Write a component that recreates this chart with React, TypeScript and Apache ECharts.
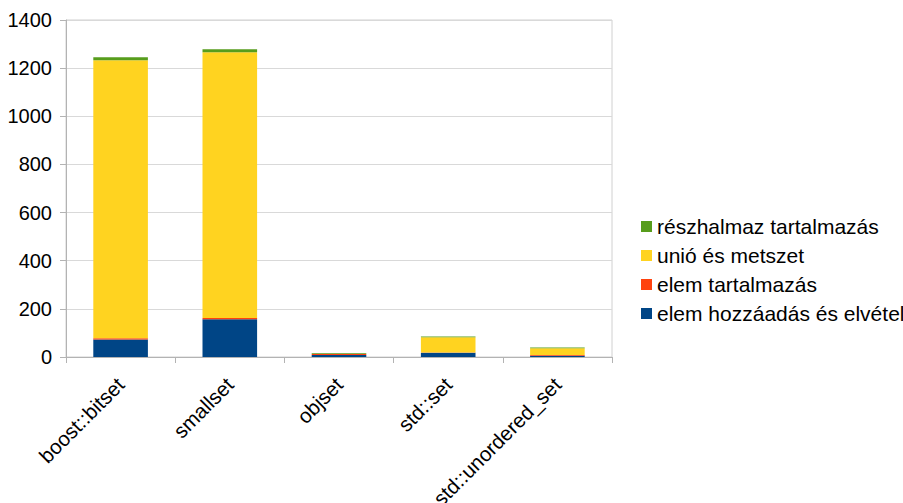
import React, { useEffect, useRef } from "react";
import * as echarts from "echarts";

const categories = ["boost::bitset", "smallset", "objset", "std::set", "std::unordered_set"];
const addRemove = [73, 157, 8, 18, 5];
const contains = [5, 5, 4, 0.5, 3];
const unionIntersect = [1155, 1104, 0.3, 64, 28];
const subsetContains = [12, 12, 3, 3, 3];
const yTicks = [0, 200, 400, 600, 800, 1000, 1200, 1400];

const seriesNames = [
  "elem hozzáadás és elvétel",
  "elem tartalmazás",
  "unió és metszet",
  "részhalmaz tartalmazás",
];
const colors = ["#004586", "#ff420e", "#ffd320", "#579d1c"];

export default function App() {
  const ref = useRef<HTMLDivElement>(null);
  useEffect(() => {
    if (!ref.current) return;
    const chart = echarts.init(ref.current, null, { renderer: "svg" });
    const values = [addRemove, contains, unionIntersect, subsetContains];
    chart.setOption({
      animation: false,
      textStyle: { fontFamily: "Liberation Sans" },
      grid: {
        left: 66,
        right: 291,
        top: 20,
        bottom: 146,
        containLabel: false,
        outerBoundsMode: "none",
        show: true,
        borderColor: "#d0d0d0",
        borderWidth: 1,
      },
      legend: {
        orient: "vertical",
        left: 636,
        top: 211,
        itemWidth: 11,
        itemHeight: 11,
        itemGap: 8,
        icon: "rect",
        data: [seriesNames[3], seriesNames[2], seriesNames[1], seriesNames[0]],
        textStyle: { fontSize: 21, color: "#000", fontFamily: "Liberation Sans", padding: [0, 0, 0, 0] },
      },
      xAxis: {
        type: "category",
        data: categories,
        axisLine: { lineStyle: { color: "#b3b3b3", width: 1 } },
        axisTick: { show: true, length: 6, lineStyle: { color: "#b3b3b3" } },
        axisLabel: {
          rotate: 45,
          fontSize: 20.5,
          color: "#000",
          margin: 24,
          interval: 0,
          fontFamily: "Liberation Sans",
        },
      },
      yAxis: {
        type: "value",
        min: 0,
        max: 1400,
        interval: 200,
        axisLine: { show: true, lineStyle: { color: "#b3b3b3", width: 1 } },
        axisTick: { show: true, length: 6, lineStyle: { color: "#b3b3b3" } },
        splitLine: { lineStyle: { color: "#d9d9d9", width: 1 } },
        axisLabel: {
          fontSize: 20,
          color: "#000",
          margin: 14,
          fontFamily: "Liberation Sans",
          formatter: (v: number) => (yTicks.includes(v) ? String(v) : ""),
        },
      },
      series: seriesNames.map((name, i) => ({
        name,
        type: "bar",
        stack: "total",
        barWidth: "50%",
        data: values[i],
        itemStyle: { color: colors[i] },
      })),
    });
    return () => chart.dispose();
  }, []);
  return <div ref={ref} style={{ width: 903, height: 503, position: "absolute", left: 0, top: 0, background: "#fff" }} />;
}
